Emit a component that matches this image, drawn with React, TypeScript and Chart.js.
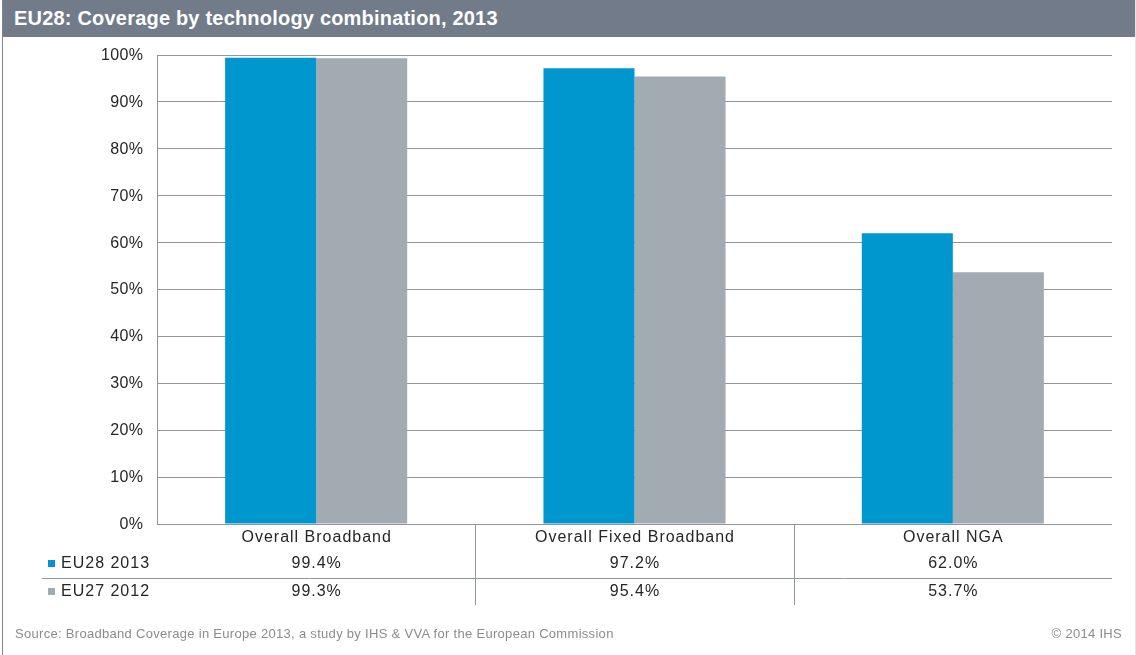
import React, { useEffect, useRef } from "react";
import { Chart, registerables } from "chart.js";

Chart.register(...registerables);

const categories = ["Overall Broadband", "Overall Fixed Broadband", "Overall NGA"];
const seriesNames = ["EU28 2013", "EU27 2012"];
const eu28_2013 = [99.4, 97.2, 62.0];
const eu27_2012 = [99.3, 95.4, 53.7];
const seriesColors = ["#0097CF", "#A2ABB1"];
const yTickValues = [0, 10, 20, 30, 40, 50, 60, 70, 80, 90, 100];

const titleText = "EU28: Coverage by technology combination, 2013";
const sourceText =
  "Source: Broadband Coverage in Europe 2013, a study by IHS & VVA for the European Commission";
const copyrightText = "© 2014 IHS";

const FONT = "'Liberation Sans', Arial, sans-serif";
const GRID = "#8F969E";
const TEXT = "#262626";

const tablePlugin = {
  id: "dataTable",
  afterDraw(chart: any) {
    const ctx = chart.ctx;
    const ca = chart.chartArea;
    const xs = chart.scales.x;
    const yScale = chart.scales.y;
    const n = categories.length;
    const step = ca.width / n;
    const labelY = 538;
    const row1 = 564;
    const row2 = 592;
    const sep = 578;
    const tableBottom = 605;
    ctx.save();
    ctx.strokeStyle = GRID;
    ctx.lineWidth = 1;
    for (let i = 1; i < n; i++) {
      const bx = Math.round(ca.left + i * step) + 0.5;
      ctx.beginPath();
      ctx.moveTo(bx, ca.bottom);
      ctx.lineTo(bx, tableBottom);
      ctx.stroke();
    }
    ctx.beginPath();
    ctx.moveTo(42, sep + 0.5);
    ctx.lineTo(ca.right, sep + 0.5);
    ctx.stroke();

    ctx.font = `16px ${FONT}`;
    ctx.fillStyle = TEXT;
    ctx.textBaseline = "middle";

    // y-axis tick labels
    (ctx as any).letterSpacing = "0.4px";
    ctx.textAlign = "right";
    yTickValues.forEach((v) => {
      ctx.fillText(v + "%", 143.5, yScale.getPixelForValue(v) + 0.5);
    });

    (ctx as any).letterSpacing = "1px";
    ctx.textAlign = "center";
    categories.forEach((c, i) => {
      ctx.fillText(c, xs.getPixelForValue(i) + 0.5, labelY);
    });
    const rows = [eu28_2013, eu27_2012];
    const ys = [row1, row2];
    rows.forEach((vals, r) => {
      ctx.textAlign = "center";
      ctx.fillStyle = TEXT;
      vals.forEach((v, i) => {
        ctx.fillText(v.toFixed(1) + "%", xs.getPixelForValue(i) + 0.5, ys[r]);
      });
      ctx.fillStyle = seriesColors[r];
      ctx.fillRect(48, ys[r] - 4, 7, 7);
      ctx.fillStyle = TEXT;
      ctx.textAlign = "left";
      ctx.fillText(seriesNames[r], 61, ys[r]);
    });
    ctx.restore();
  },
};

export default function App() {
  const ref = useRef<HTMLCanvasElement | null>(null);

  useEffect(() => {
    if (!ref.current) return;
    const chart = new Chart(ref.current, {
      type: "bar",
      data: {
        labels: categories,
        datasets: [
          {
            label: seriesNames[0],
            data: eu28_2013,
            backgroundColor: seriesColors[0],
            categoryPercentage: 0.572,
            barPercentage: 1.0,
          },
          {
            label: seriesNames[1],
            data: eu27_2012,
            backgroundColor: seriesColors[1],
            categoryPercentage: 0.572,
            barPercentage: 1.0,
          },
        ],
      },
      options: {
        responsive: false,
        animation: false,
        layout: { padding: { left: 0, right: 24, top: 55, bottom: 0 } },
        plugins: {
          legend: { display: false },
          title: { display: false },
          tooltip: { enabled: false },
        },
        scales: {
          x: {
            grid: { display: false, drawTicks: false },
            border: { display: false },
            ticks: { display: false },
            afterFit(scale: any) {
              scale.height = 131;
            },
          },
          y: {
            min: yTickValues[0],
            max: yTickValues[yTickValues.length - 1],
            grid: { color: GRID, drawTicks: false, lineWidth: 1 },
            border: { display: true, color: GRID },
            ticks: {
              stepSize: yTickValues[1] - yTickValues[0],
              display: false,
            },
            afterFit(scale: any) {
              scale.width = 157;
            },
          },
        },
      },
      plugins: [tablePlugin],
    });
    return () => chart.destroy();
  }, []);

  return (
    <div
      style={{
        position: "absolute",
        left: 0,
        top: 0,
        width: 1136,
        height: 655,
        background: "#fff",
        overflow: "hidden",
        fontFamily: FONT,
      }}
    >
      <canvas
        ref={ref}
        width={1136}
        height={655}
        style={{ position: "absolute", left: 0, top: 0, display: "block" }}
      />
      <div
        style={{
          position: "absolute",
          left: 2,
          top: 0,
          width: 1133,
          height: 37,
          background: "#717B89",
          color: "#fff",
          fontWeight: "bold",
          fontSize: 20,
          letterSpacing: "0.2px",
          lineHeight: "37px",
          paddingLeft: 12,
          boxSizing: "border-box",
          whiteSpace: "nowrap",
        }}
      >
        {titleText}
      </div>
      <div
        style={{
          position: "absolute",
          left: 2,
          top: 0,
          width: 1,
          height: 655,
          background: "#7E8690",
        }}
      />
      <div
        style={{
          position: "absolute",
          left: 1135,
          top: 0,
          width: 1,
          height: 655,
          background: "#E4E6E8",
        }}
      />
      <div
        style={{
          position: "absolute",
          left: 15,
          top: 626,
          fontSize: 13,
          letterSpacing: "0.3px",
          color: "#8C8C8C",
          whiteSpace: "nowrap",
        }}
      >
        {sourceText}
      </div>
      <div
        style={{
          position: "absolute",
          right: 14,
          top: 626,
          fontSize: 13,
          letterSpacing: "0.3px",
          color: "#8C8C8C",
          whiteSpace: "nowrap",
        }}
      >
        {copyrightText}
      </div>
    </div>
  );
}
